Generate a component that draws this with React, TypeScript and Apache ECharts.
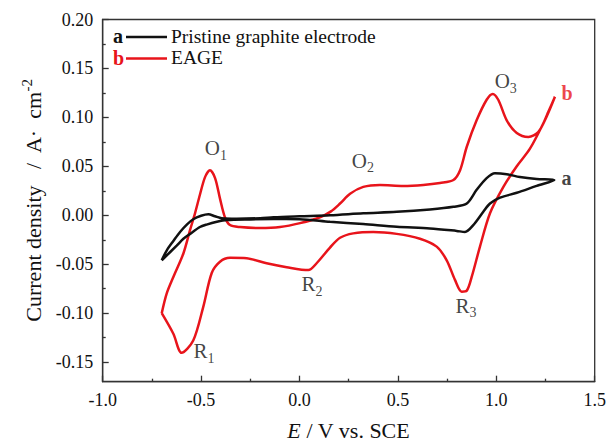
import React, { useEffect, useRef } from "react";
import * as echarts from "echarts";

// ---- data ----
const seriesNames = ["Pristine graphite electrode", "EAGE"];
const seriesKeys = ["a", "b"];
const seriesColors = ["#111111", "#e8141b"];

// Pristine graphite electrode (a): anodic scan then cathodic scan
const pristineCV: number[][] = [
  [-0.70, -0.046], [-0.675, -0.036], [-0.640, -0.026], [-0.607, -0.017], [-0.570, -0.009],
  [-0.540, -0.004], [-0.500, -0.0005], [-0.463, 0.001], [-0.430, -0.001], [-0.395, -0.003],
  [-0.319, -0.0035], [-0.200, -0.003], [-0.132, -0.002], [0.0, -0.001], [0.155, 0.0],
  [0.324, 0.002], [0.494, 0.0035], [0.663, 0.006], [0.782, 0.0087], [0.850, 0.012],
  [0.900, 0.026], [0.951, 0.038], [0.993, 0.043], [1.053, 0.042], [1.120, 0.039],
  [1.205, 0.037], [1.295, 0.036],
  [1.205, 0.030], [1.104, 0.023], [1.019, 0.018], [0.968, 0.012], [0.934, 0.0036],
  [0.883, -0.010], [0.841, -0.017], [0.799, -0.016], [0.663, -0.0134], [0.494, -0.0118],
  [0.324, -0.009], [0.155, -0.0067], [0.0, -0.004], [-0.132, -0.0039], [-0.25, -0.0042],
  [-0.370, -0.0049], [-0.42, -0.0067], [-0.472, -0.0095], [-0.506, -0.012], [-0.556, -0.019],
  [-0.59, -0.024], [-0.624, -0.031], [-0.70, -0.046],
];

// EAGE (b): anodic scan then cathodic scan
const eageCV: number[][] = [
  [-0.70, -0.100], [-0.675, -0.080], [-0.641, -0.063], [-0.590, -0.039], [-0.556, -0.015],
  [-0.531, 0.002], [-0.506, 0.021], [-0.480, 0.039], [-0.455, 0.046], [-0.429, 0.038],
  [-0.404, 0.017], [-0.379, -0.002], [-0.353, -0.010], [-0.302, -0.012], [-0.201, -0.013],
  [-0.099, -0.012], [0.003, -0.008], [0.104, -0.002], [0.160, 0.004], [0.206, 0.012],
  [0.257, 0.022], [0.324, 0.029], [0.409, 0.031], [0.527, 0.030], [0.629, 0.031],
  [0.714, 0.033], [0.782, 0.036], [0.816, 0.046], [0.850, 0.070], [0.900, 0.097],
  [0.951, 0.118], [0.982, 0.124], [1.010, 0.118], [1.053, 0.097], [1.104, 0.084],
  [1.163, 0.080], [1.213, 0.085], [1.256, 0.101], [1.298, 0.121],
  [1.265, 0.106], [1.239, 0.094], [1.171, 0.068], [1.104, 0.050], [1.036, 0.029],
  [0.968, 0.002], [0.917, -0.032], [0.875, -0.063], [0.850, -0.077], [0.824, -0.078],
  [0.790, -0.066], [0.748, -0.046], [0.697, -0.032], [0.612, -0.024], [0.494, -0.019],
  [0.375, -0.017], [0.273, -0.0185], [0.206, -0.023], [0.155, -0.033], [0.087, -0.049],
  [0.045, -0.056], [-0.065, -0.053], [-0.167, -0.049], [-0.268, -0.044], [-0.353, -0.0435],
  [-0.404, -0.0475], [-0.446, -0.059], [-0.489, -0.0935], [-0.540, -0.128], [-0.599, -0.1405],
  [-0.641, -0.121], [-0.70, -0.100],
];

// peak annotations: letter, subscript, anchor [E, j]
const peakLetters = ["O", "O", "O", "R", "R", "R"];
const peakSubs = ["1", "2", "3", "1", "2", "3"];
const peakAnchors: number[][] = [
  [-0.425, 0.0685], [0.322, 0.0555], [1.048, 0.137],
  [-0.485, -0.139], [0.063, -0.0705], [0.846, -0.0925],
];
// curve end labels
const curveLabelAnchors: number[][] = [[1.357, 0.0385], [1.36, 0.1245]];

const xMin = -1.0, xMax = 1.5, xInterval = 0.5;
const yMin = -0.17, yMax = 0.2;
const yTickValues = [-0.15, -0.10, -0.05, 0.0, 0.05, 0.10, 0.15, 0.20];
const yMinorTickValues = [-0.125, -0.075, -0.025, 0.025, 0.075, 0.125, 0.175];

const FONT = "'Liberation Serif', 'Times New Roman', serif";

export default function App() {
  const ref = useRef<HTMLDivElement>(null);
  useEffect(() => {
    if (!ref.current) return;
    const chart = echarts.init(ref.current, null, { renderer: "svg" });

    const legendGraphics: any[] = [];
    seriesNames.forEach((name, i) => {
      const y = 37 + i * 21.5;
      legendGraphics.push({
        type: "text", left: 113, top: y - 11,
        style: { text: seriesKeys[i], fill: seriesColors[i], font: `bold 20px ${FONT}` },
      });
      legendGraphics.push({
        type: "line",
        shape: { x1: 126, y1: y, x2: 167, y2: y },
        style: { stroke: seriesColors[i], lineWidth: 2.5 },
      });
      legendGraphics.push({
        type: "text", left: 171, top: y - 11,
        style: { text: name, fill: "#111", font: `19.5px ${FONT}` },
      });
    });

    const richAnno = {
      m: { fontSize: 21, lineHeight: 28, fontFamily: FONT, color: "#111" },
      s: { fontSize: 14, lineHeight: 14, verticalAlign: "bottom", fontFamily: FONT, color: "#111" },
    };

    const axisColor = "#333";
    const option: any = {
      animation: false,
      grid: {
        left: 102.7, right: 13.3, top: 19.5, bottom: 60.3,
        outerBoundsMode: "none", containLabel: false,
        show: true, borderColor: axisColor, borderWidth: 1.3, backgroundColor: "transparent",
      },
      xAxis: {
        type: "value", min: xMin, max: xMax, interval: xInterval,
        axisLine: { onZero: false, lineStyle: { color: axisColor, width: 1.3 } },
        axisTick: { inside: true, length: 6, lineStyle: { color: axisColor, width: 1.3 } },
        minorTick: { show: true, splitNumber: 2, length: 3, lineStyle: { color: axisColor, width: 1.3 } },
        splitLine: { show: false },
        axisLabel: {
          margin: 9, fontSize: 18, fontFamily: FONT, color: "#111",
          formatter: (v: number) => v.toFixed(1),
        },
        name: "{i|E}{t| / V vs. SCE}",
        nameLocation: "middle", nameGap: 37,
        nameTextStyle: {
          rich: {
            i: { fontSize: 22, lineHeight: 24, fontStyle: "italic", fontFamily: FONT, color: "#111" },
            t: { fontSize: 22, lineHeight: 24, fontFamily: FONT, color: "#111" },
          },
        },
      },
      yAxis: [
        {
          type: "value", min: yMin, max: yMax,
          axisLine: { show: true, onZero: false, lineStyle: { color: axisColor, width: 1.3 } },
          axisTick: { show: true, inside: true, length: 6, customValues: yTickValues, lineStyle: { color: axisColor, width: 1.3 } },
          splitLine: { show: false },
          axisLabel: {
            margin: 9.5, fontSize: 18, fontFamily: FONT, color: "#111",
            customValues: yTickValues,
            formatter: (v: number) => v.toFixed(2),
          },
          name: "{t|Current density   /  A·  cm}{sup|-2}",
          nameLocation: "middle", nameGap: 53, nameRotate: 90,
          nameTextStyle: {
            rich: {
              t: { fontSize: 22, lineHeight: 28, fontFamily: FONT, color: "#111" },
              sup: { fontSize: 15, lineHeight: 15, verticalAlign: "top", fontFamily: FONT, color: "#111" },
            },
          },
        },
        {
          type: "value", min: yMin, max: yMax, position: "left",
          axisLine: { show: false, onZero: false },
          axisTick: { show: true, inside: true, length: 3, customValues: yMinorTickValues, lineStyle: { color: axisColor, width: 1.3 } },
          axisLabel: { show: false },
          splitLine: { show: false },
        },
      ],
      series: [
        {
          name: seriesNames[0], type: "line", data: pristineCV, smooth: 0.3,
          showSymbol: false, symbol: "none",
          lineStyle: { color: seriesColors[0], width: 2.5 }, z: 3,
        },
        {
          name: seriesNames[1], type: "line", data: eageCV, smooth: 0.3,
          showSymbol: false, symbol: "none",
          lineStyle: { color: seriesColors[1], width: 2.5 }, z: 2,
        },
        {
          type: "scatter", symbolSize: 0, silent: true,
          data: peakAnchors.map((p, i) => ({ value: p, name: peakLetters[i] + peakSubs[i] })),
          label: {
            show: true, position: "inside",
            formatter: (p: any) => `{m|${peakLetters[p.dataIndex]}}{s|${peakSubs[p.dataIndex]}}`,
            rich: richAnno,
          },
          z: 5,
        },
        {
          type: "scatter", symbolSize: 0, silent: true,
          data: curveLabelAnchors.map((p, i) => ({
            value: p, name: seriesKeys[i], label: { color: seriesColors[i] },
          })),
          label: {
            show: true, position: "inside",
            formatter: (p: any) => seriesKeys[p.dataIndex],
            fontSize: 20, fontWeight: "bold", fontFamily: FONT,
          },
          z: 5,
        },
      ],
      graphic: legendGraphics,
    };
    chart.setOption(option);
    return () => chart.dispose();
  }, []);
  return (
    <div
      ref={ref}
      style={{ position: "fixed", left: 0, top: 0, width: 608, height: 442, background: "#fff" }}
    />
  );
}
